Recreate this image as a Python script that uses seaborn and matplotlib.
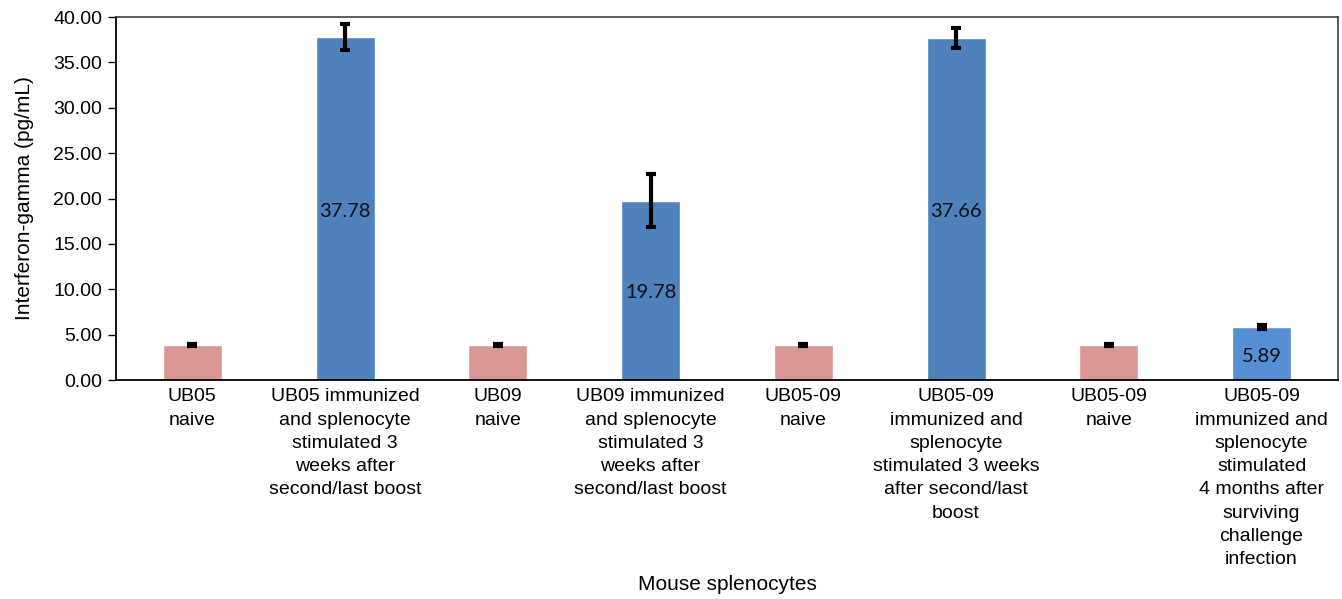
import matplotlib
matplotlib.use("Agg")
import matplotlib.pyplot as plt
import seaborn as sns
import pandas as pd

categories = [
    "UB05\nnaive",
    "UB05 immunized\nand splenocyte\nstimulated 3\nweeks after\nsecond/last boost",
    "UB09\nnaive",
    "UB09 immunized\nand splenocyte\nstimulated 3\nweeks after\nsecond/last boost",
    "UB05-09\nnaive",
    "UB05-09\nimmunized and\nsplenocyte\nstimulated 3 weeks\nafter second/last\nboost",
    "UB05-09\nnaive",
    "UB05-09\nimmunized and\nsplenocyte\nstimulated\n4 months after\nsurviving\nchallenge\ninfection",
]
values = [3.86, 37.78, 3.86, 19.78, 3.86, 37.66, 3.86, 5.89]
errors = [0.12, 1.4, 0.12, 2.9, 0.12, 1.1, 0.12, 0.22]
labels = [None, "37.78", None, "19.78", None, "37.66", None, "5.89"]
bar_colors = ["#d99694", "#4f81bd", "#d99694", "#4f81bd",
              "#d99694", "#4f81bd", "#d99694", "#558ed5"]
yticks = [0, 5, 10, 15, 20, 25, 30, 35, 40]

sns.set_style("white")
plt.rcParams["font.family"] = ["Liberation Sans", "DejaVu Sans"]
plt.rcParams["text.color"] = "black"
plt.rcParams["axes.labelcolor"] = "black"
plt.rcParams["xtick.color"] = "black"
plt.rcParams["ytick.color"] = "black"

df = pd.DataFrame({"pos": [f"c{i}" for i in range(len(categories))],
                   "value": values})

fig = plt.figure(figsize=(13.42, 5.99), dpi=100)
ax = fig.add_axes([0.0864, 0.3656, 0.9106, 0.606])

sns.barplot(data=df, x="pos", y="value", hue="pos", palette=bar_colors,
            width=0.386, legend=False, ax=ax, saturation=1)

xs = list(range(len(values)))
ax.errorbar(xs, values, yerr=errors, fmt="none", ecolor="black",
            elinewidth=3, capsize=3.5, capthick=3, zorder=5)

for x, v, lab in zip(xs, values, labels):
    if lab:
        ax.text(x, v / 2 - 0.3, lab, ha="center", va="center", fontsize=14.5,
                family=["Lato", "DejaVu Sans"], color="#111111", zorder=6)

ax.set_xlim(-0.5, len(values) - 0.5)
ax.set_ylim(0, 40)
ax.set_yticks(yticks)
ax.set_yticklabels([f"{t:.2f}" for t in yticks], fontsize=14)
ax.set_xticks(xs)
ax.set_xticklabels(categories, fontsize=14, linespacing=1.48)
ax.tick_params(axis="x", length=0, pad=6)
ax.tick_params(axis="y", length=6, width=1, direction="out", left=True, pad=4)

for side in ["left", "bottom"]:
    ax.spines[side].set_color("black")
    ax.spines[side].set_linewidth(1.3)
for side in ["top", "right"]:
    ax.spines[side].set_visible(True)
    ax.spines[side].set_color("#404040")
    ax.spines[side].set_linewidth(1.2)

ax.set_xlabel("Mouse splenocytes", fontsize=15, labelpad=5)
ax.set_ylabel("Interferon-gamma (pg/mL)", fontsize=15, labelpad=14)

fig.savefig("out.png", dpi=100)
